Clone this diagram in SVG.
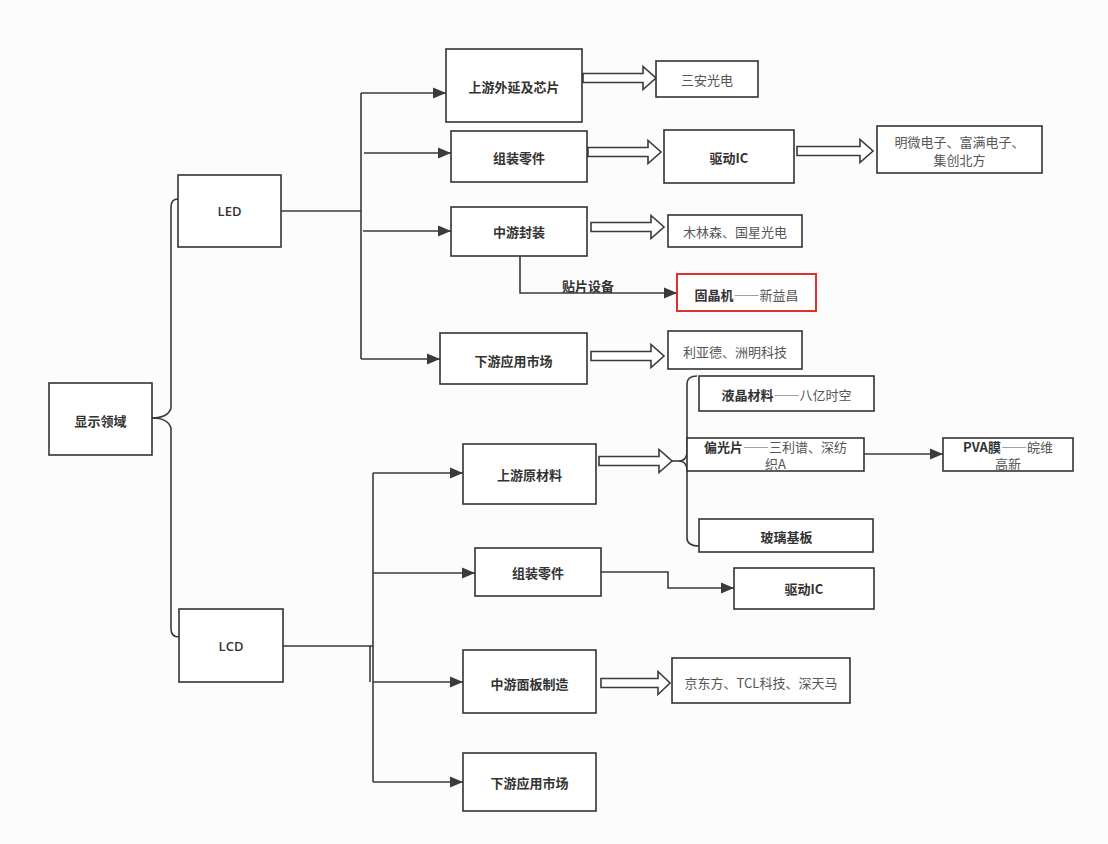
<svg xmlns="http://www.w3.org/2000/svg" width="1108" height="844" viewBox="0 0 1108 844">
<style>
.box{fill:#ffffff;stroke:#333333;stroke-width:1.6}
.red{fill:#ffffff;stroke:#e0302a;stroke-width:2}
.ln{fill:none;stroke:#3a3a3a;stroke-width:1.6}
.ha{fill:#ffffff;stroke:#3a3a3a;stroke-width:1.6;stroke-linejoin:miter}
.t{font-family:"Noto Sans CJK SC","Noto Sans",sans-serif;font-size:13px;fill:#333333;text-anchor:middle;dominant-baseline:central}
.b{font-weight:bold}
.r{font-weight:normal;fill:#555555}
.d{font-feature-settings:"fwid" 1}
.lat{font-family:"Open Sans","Noto Sans",sans-serif;font-size:13px;font-weight:600;fill:#333333;text-anchor:middle;dominant-baseline:central}
</style>
<defs>
<marker id="arr" markerUnits="userSpaceOnUse" markerWidth="14" markerHeight="12" refX="13" refY="6" orient="auto">
<path d="M0,0.5 L13,6 L0,11.5 Z" fill="#3a3a3a"/>
</marker>
</defs>
<rect width="1108" height="844" fill="#fcfcfc"/>

<g id="connectors">
<path class="ln" d="M152,418 Q168,418 171,408 V207 Q171,199 178,199"/>
<path class="ln" d="M152,418 Q168,418 171,428 V629 Q171,637 179,637"/>
<path class="ln" d="M281,211 H361"/>
<path class="ln" d="M361,93 V359"/>
<path class="ln" d="M361,93 H446" marker-end="url(#arr)"/>
<path class="ln" d="M364,153 H451" marker-end="url(#arr)"/>
<path class="ln" d="M363,231 H451" marker-end="url(#arr)"/>
<path class="ln" d="M361,359 H440" marker-end="url(#arr)"/>
<path class="ln" d="M520,256 V293 H677" marker-end="url(#arr)"/>
<path class="ln" d="M283,646 H373"/>
<path class="ln" d="M373,473 V782"/>
<path class="ln" d="M370,646 V682"/>
<path class="ln" d="M373,473 H463" marker-end="url(#arr)"/>
<path class="ln" d="M373,573 H475" marker-end="url(#arr)"/>
<path class="ln" d="M373,682 H463" marker-end="url(#arr)"/>
<path class="ln" d="M373,782 H463" marker-end="url(#arr)"/>
<path class="ln" d="M601,572 H668 V588 H734" marker-end="url(#arr)"/>
<path class="ln" d="M672,461 H679"/>
<path class="ln" d="M679,461 Q686,461 687,453 V384 Q687,376 697,376"/>
<path class="ln" d="M679,461 Q686,461 687,469 V538 Q687,546 699,546"/>
<path class="ln" d="M864,454 H943" marker-end="url(#arr)"/>
<polygon class="ha" points="583,73.5 643,73.5 643,66.5 656,78 643,89.5 643,82.5 583,82.5"/>
<polygon class="ha" points="588,147.5 648,147.5 648,140.5 661,152 648,163.5 648,156.5 588,156.5"/>
<polygon class="ha" points="797,146.5 860,146.5 860,139.5 873,151 860,162.5 860,155.5 797,155.5"/>
<polygon class="ha" points="591,222.5 651,222.5 651,215.5 664,227 651,238.5 651,231.5 591,231.5"/>
<polygon class="ha" points="591,351.5 651,351.5 651,344.5 664,356 651,367.5 651,360.5 591,360.5"/>
<polygon class="ha" points="599,456.5 659,456.5 659,449.5 672,461 659,472.5 659,465.5 599,465.5"/>
<polygon class="ha" points="601,678.5 658,678.5 658,671.5 670,683 658,694.5 658,687.5 601,687.5"/>
</g>

<g id="n-root"><rect class="box" x="49" y="383" width="103" height="72"/><text class="t b" x="100.5" y="420">显示领域</text></g>
<g id="n-led"><rect class="box" x="178" y="175" width="103" height="72"/><text class="lat" x="229.5" y="211">LED</text></g>
<g id="n-lcd"><rect class="box" x="179" y="609" width="104" height="73"/><text class="lat" x="231" y="646">LCD</text></g>

<g id="n-led-up"><rect class="box" x="446" y="49" width="136" height="73"/><text class="t b" x="514" y="86">上游外延及芯片</text></g>
<g id="n-sanan"><rect class="box" x="656" y="61" width="102" height="36"/><text class="t r" x="707" y="79">三安光电</text></g>
<g id="n-led-parts"><rect class="box" x="451" y="131" width="136" height="51"/><text class="t b" x="519" y="157">组装零件</text></g>
<g id="n-led-ic"><rect class="box" x="664" y="130" width="130" height="53"/><text class="t b" x="729" y="157">驱动IC</text></g>
<g id="n-mingwei"><rect class="box" x="877" y="126" width="165" height="47"/><text class="t r" x="959.5" y="141.5">明微电子、富满电子、<tspan x="959.5" dy="17">集创北方</tspan></text></g>
<g id="n-led-pack"><rect class="box" x="451" y="207" width="136" height="49"/><text class="t b" x="519" y="231">中游封装</text></g>
<g id="n-mls"><rect class="box" x="668" y="215" width="134" height="32"/><text class="t r" x="735" y="231">木林森、国星光电</text></g>
<text id="l-smt" class="t b" x="588" y="285">贴片设备</text>
<g id="n-gujing"><rect class="red" x="677" y="274" width="139" height="37"/><text class="t" x="746.5" y="294"><tspan class="b">固晶机</tspan><tspan class="r d">——</tspan><tspan class="r">新益昌</tspan></text></g>
<g id="n-led-down"><rect class="box" x="440" y="333" width="147" height="51"/><text class="t b" x="513.5" y="360">下游应用市场</text></g>
<g id="n-lyd"><rect class="box" x="668" y="331" width="134" height="38"/><text class="t r" x="735" y="351">利亚德、洲明科技</text></g>

<g id="n-lcd-up"><rect class="box" x="463" y="444" width="133" height="60"/><text class="t b" x="529.5" y="474">上游原材料</text></g>
<g id="n-lc"><rect class="box" x="699" y="376" width="175" height="35"/><text class="t" x="786.5" y="394"><tspan class="b">液晶材料</tspan><tspan class="r d">——</tspan><tspan class="r">八亿时空</tspan></text></g>
<g id="n-pol"><rect class="box" x="687" y="438" width="177" height="33"/><text class="t" x="775.5" y="446"><tspan class="b">偏光片</tspan><tspan class="r d">——</tspan><tspan class="r">三利谱、深纺</tspan><tspan class="r" x="775.5" dy="17">织A</tspan></text></g>
<g id="n-pva"><rect class="box" x="943" y="438" width="130" height="33"/><text class="t" x="1008" y="446"><tspan class="b">PVA膜</tspan><tspan class="r d">——</tspan><tspan class="r">皖维</tspan><tspan class="r" x="1008" dy="17">高新</tspan></text></g>
<g id="n-glass"><rect class="box" x="699" y="519" width="174" height="33"/><text class="t b" x="786.5" y="536">玻璃基板</text></g>
<g id="n-lcd-parts"><rect class="box" x="475" y="548" width="126" height="48"/><text class="t b" x="538" y="572">组装零件</text></g>
<g id="n-lcd-ic"><rect class="box" x="734" y="568" width="140" height="41"/><text class="t b" x="804" y="588">驱动IC</text></g>
<g id="n-panel"><rect class="box" x="463" y="650" width="133" height="63"/><text class="t b" x="529.5" y="683">中游面板制造</text></g>
<g id="n-boe"><rect class="box" x="672" y="658" width="178" height="45"/><text class="t r" x="761" y="682">京东方、TCL科技、深天马</text></g>
<g id="n-lcd-down"><rect class="box" x="463" y="753" width="133" height="58"/><text class="t b" x="529.5" y="782">下游应用市场</text></g>
</svg>
